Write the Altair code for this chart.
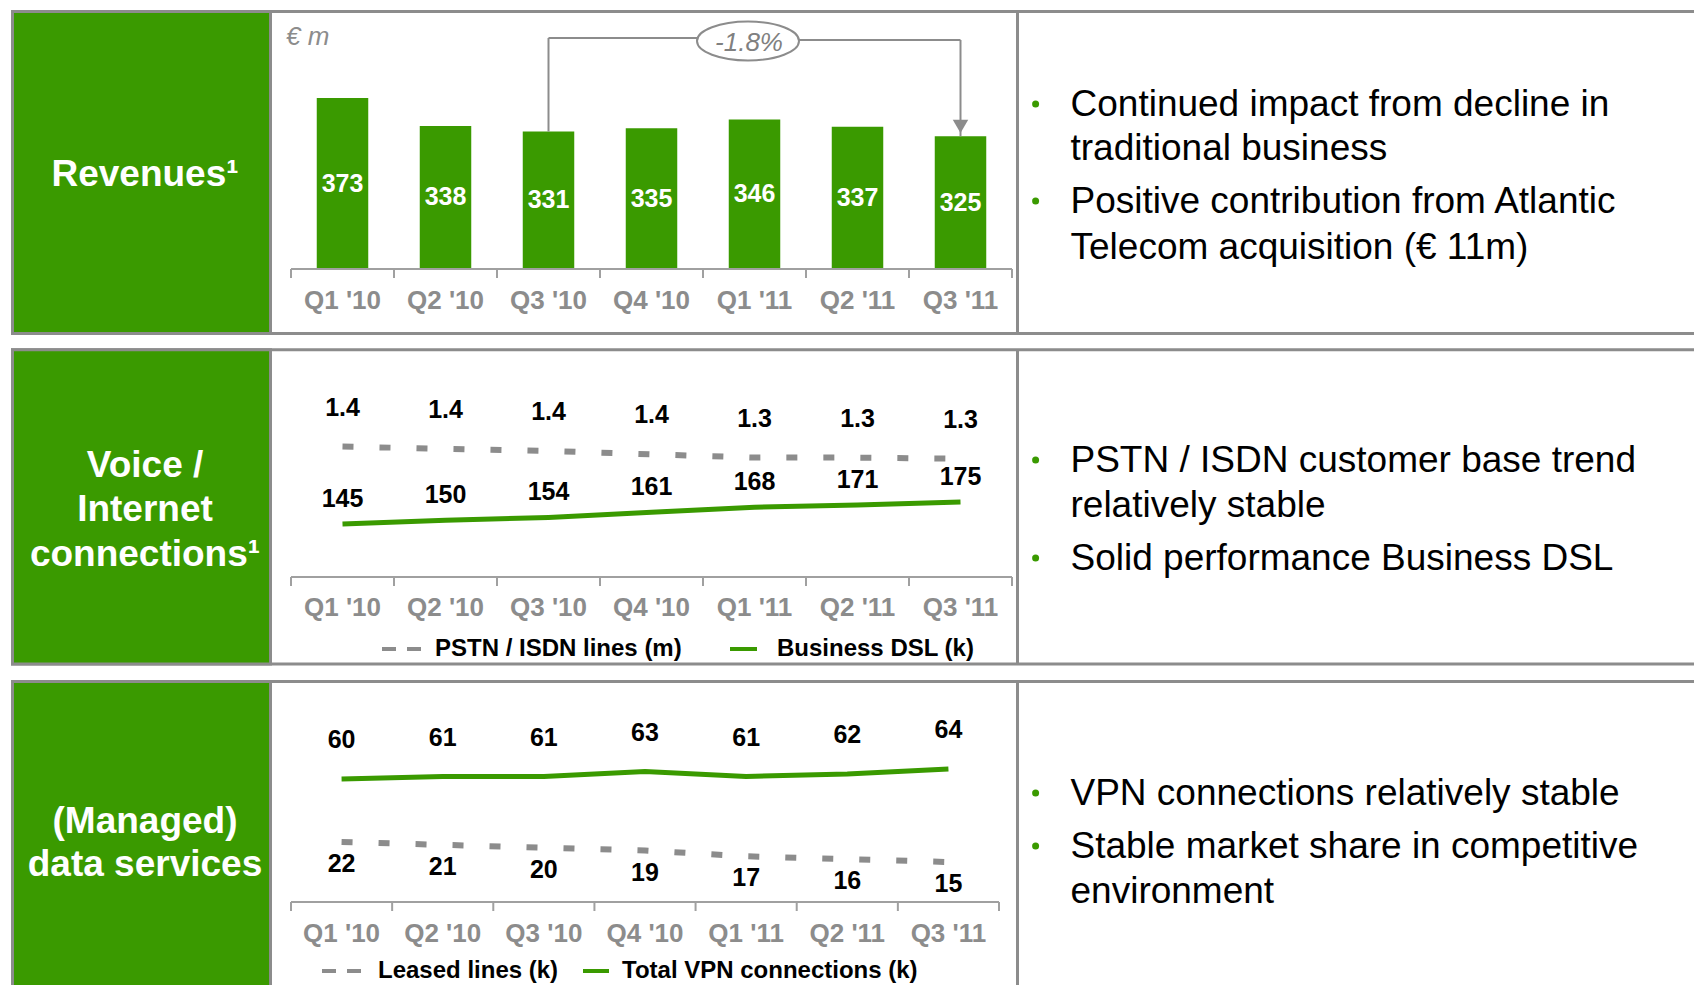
import altair as alt
import pandas as pd

# ---------------- data ----------------
quarters = ["Q1 '10", "Q2 '10", "Q3 '10", "Q4 '10", "Q1 '11", "Q2 '11", "Q3 '11"]
revenues = [373, 338, 331, 335, 346, 337, 325]
pstn_isdn_lines_m = [1.44, 1.42, 1.40, 1.37, 1.34, 1.34, 1.33]
business_dsl_k = [145, 150, 154, 161, 168, 171, 175]
total_vpn_k = [60, 61, 61, 63, 61, 62, 64]
leased_lines_k = [22, 21, 20, 19, 17, 16, 15]

revenue_change = "-1.8%"
unit_label = "€ m"

titles_1 = ["Revenues¹"]
titles_2 = ["Voice /", "Internet", "connections¹"]
titles_3 = ["(Managed)", "data services"]

bullets_1 = [["Continued impact from decline in", "traditional business"],
             ["Positive contribution from Atlantic", "Telecom acquisition (€ 11m)"]]
bullets_2 = [["PSTN / ISDN customer base trend", "relatively stable"],
             ["Solid performance Business DSL"]]
bullets_3 = [["VPN connections relatively stable"],
             ["Stable market share in competitive", "environment"]]

legend_2 = ["PSTN / ISDN lines (m)", "Business DSL (k)"]
legend_3 = ["Leased lines (k)", "Total VPN connections (k)"]

# ---------------- styling ----------------
GREEN = "#3a9a00"
GRAY = "#8c8c8c"
AXIS_GRAY = "#a0a0a0"
LABEL_GRAY = "#8c8c8c"
FONT = "Liberation Sans"
W, H = 1686, 977

one = pd.DataFrame({"k": [0]})
rev_df = pd.DataFrame({"q": quarters, "v": revenues})
pstn_df = pd.DataFrame({"q": quarters, "v": pstn_isdn_lines_m})
dsl_df = pd.DataFrame({"q": quarters, "v": business_dsl_k})
vpn_df = pd.DataFrame({"q": quarters, "v": total_vpn_k})
leased_df = pd.DataFrame({"q": quarters, "v": leased_lines_k})
edges_df = pd.DataFrame({"e": list(range(len(quarters) + 1))})
q_df = pd.DataFrame({"q": quarters})


def xband(rng):
    return alt.Scale(type="band", domain=quarters, range=rng, paddingInner=0.5, paddingOuter=0.25)


def xpoint(rng):
    return alt.Scale(type="point", domain=quarters, range=rng, padding=0.5)


def ylin(dom, rng):
    return alt.Scale(type="linear", domain=dom, range=rng, zero=False, nice=False)


def txt(s, x, y, size, color="black", weight="normal", align="left", style="normal"):
    return alt.Chart(one).mark_text(
        fontSize=size, color=color, fontWeight=weight, align=align,
        baseline="middle", font=FONT, fontStyle=style
    ).encode(x=alt.value(x), y=alt.value(y), text=alt.value(s))


def rect(x, x2, y, y2, fill, stroke=GRAY, sw=3):
    return alt.Chart(one).mark_rect(fill=fill, stroke=stroke, strokeWidth=sw).encode(
        x=alt.value(x), x2=alt.value(x2), y=alt.value(y), y2=alt.value(y2))


def hrule(x, x2, y, color=GRAY, sw=2, dash=None):
    kw = dict(color=color, strokeWidth=sw)
    if dash:
        kw["strokeDash"] = dash
    return alt.Chart(one).mark_rule(**kw).encode(
        x=alt.value(x), x2=alt.value(x2), y=alt.value(y))


def vrule(x, y, y2, color=GRAY, sw=3):
    return alt.Chart(one).mark_rule(color=color, strokeWidth=sw).encode(
        x=alt.value(x), y=alt.value(y), y2=alt.value(y2))


def axis(rng, axis_y, label_y):
    line = hrule(rng[0], rng[1], axis_y, color=AXIS_GRAY, sw=2)
    ticks = alt.Chart(edges_df).mark_rule(color=AXIS_GRAY, strokeWidth=2).encode(
        x=alt.X("e:Q", scale=alt.Scale(domain=[0, len(quarters)], range=rng, nice=False, zero=False), axis=None),
        y=alt.value(axis_y), y2=alt.value(axis_y + 9))
    labels = alt.Chart(q_df).mark_text(fontSize=26, fontWeight="bold", color=LABEL_GRAY, font=FONT,
                                       baseline="middle", align="center").encode(
        x=alt.X("q:N", scale=xpoint(rng), axis=None), y=alt.value(label_y), text="q:N")
    return [line, ticks, labels]


def series_line(df, rng, dom, yrng, color, sw, dash=None):
    kw = dict(color=color, strokeWidth=sw, strokeCap="butt")
    if dash:
        kw["strokeDash"] = dash
    return alt.Chart(df).mark_line(**kw).encode(
        x=alt.X("q:N", scale=xpoint(rng), axis=None),
        y=alt.Y("v:Q", scale=ylin(dom, yrng), axis=None))


def series_labels(df, rng, dom, yrng, dy, fmt):
    return alt.Chart(df).mark_text(fontSize=25, fontWeight="bold", color="black", font=FONT,
                                   baseline="middle", align="center", dy=dy).encode(
        x=alt.X("q:N", scale=xpoint(rng), axis=None),
        y=alt.Y("v:Q", scale=ylin(dom, yrng), axis=None),
        text=alt.Text("v:Q", format=fmt))


layers = []

# ---------------- frames ----------------
sections = [(3.4, 325.6), (341.7, 656.0), (673.5, 1000.0)]
LEFT, GREEN_R, DIVIDER, RIGHT = 4.5, 262.5, 1009.5, 1700
for top, bot in sections:
    layers.append(rect(LEFT, RIGHT, top, bot, "white"))
    layers.append(rect(LEFT, GREEN_R, top, bot, GREEN))
    layers.append(vrule(DIVIDER, top, bot))

# ---------------- titles in green boxes ----------------
TX = 137
layers.append(txt(titles_1[0], TX, 166.6, 37, "white", "bold", "center"))
for s, y in zip(titles_2, [457.5, 502, 546.5]):
    layers.append(txt(s, TX, y, 37, "white", "bold", "center"))
for s, y in zip(titles_3, [813.5, 857]):
    layers.append(txt(s, TX, y, 37, "white", "bold", "center"))

# ---------------- bullets ----------------
BX, TXX = 1027.6, 1062.5


def bullet_block(blocks, ys):
    out = []
    i = 0
    for block in blocks:
        for j, line in enumerate(block):
            if j == 0:
                out.append(alt.Chart(one).mark_point(shape="circle", filled=True, color=GREEN, size=49, opacity=1)
                           .encode(x=alt.value(BX), y=alt.value(ys[i] - 1)))
            out.append(txt(line, TXX, ys[i], 37, "black"))
            i += 1
    return out


layers += bullet_block(bullets_1, [97, 140.5, 194, 240])
layers += bullet_block(bullets_2, [453, 497.5, 551])
layers += bullet_block(bullets_3, [786, 839, 884])

# ---------------- chart 1: revenues ----------------
R1 = [283, 1004]
REV_DOM = [159, 373]
REV_RNG = [261, 90]
layers.append(alt.Chart(rev_df).mark_bar(color=GREEN).encode(
    x=alt.X("q:N", scale=xband(R1), axis=None),
    y=alt.Y("v:Q", scale=ylin(REV_DOM, REV_RNG), axis=None),
    y2=alt.datum(REV_DOM[0])))
layers.append(alt.Chart(rev_df).transform_calculate(mid=f"(datum.v + {REV_DOM[0]}) / 2").mark_text(
    fontSize=25, fontWeight="bold", color="white", font=FONT, baseline="middle", align="center").encode(
    x=alt.X("q:N", scale=xpoint(R1), axis=None),
    y=alt.Y("mid:Q", scale=ylin(REV_DOM, REV_RNG), axis=None),
    text="v:Q"))
layers += axis(R1, 261, 293)
layers.append(txt(unit_label, 278, 29, 26, "#8c8c8c", "normal", "left", "italic"))

# bracket annotation
left_q = rev_df[rev_df.q == "Q3 '10"]
right_q = rev_df[rev_df.q == "Q3 '11"]
layers.append(alt.Chart(left_q).mark_rule(color=GRAY, strokeWidth=2).encode(
    x=alt.X("q:N", scale=xpoint(R1), axis=None),
    y=alt.Y("v:Q", scale=ylin(REV_DOM, REV_RNG), axis=None), y2=alt.value(30)))
layers.append(alt.Chart(left_q).mark_rule(color=GRAY, strokeWidth=2).encode(
    x=alt.X("q:N", scale=xpoint(R1), axis=None), x2=alt.value(689), y=alt.value(30)))
layers.append(alt.Chart(right_q).mark_rule(color=GRAY, strokeWidth=2).encode(
    x=alt.X("q:N", scale=xpoint(R1), axis=None), x2=alt.value(791), y=alt.value(32)))
layers.append(alt.Chart(right_q).mark_rule(color=GRAY, strokeWidth=2).encode(
    x=alt.X("q:N", scale=xpoint(R1), axis=None),
    y=alt.Y("v:Q", scale=ylin(REV_DOM, REV_RNG), axis=None), y2=alt.value(32)))
layers.append(alt.Chart(right_q).mark_point(shape="triangle-down", filled=True, color=GRAY, size=240,
                                             opacity=1, yOffset=-10).encode(
    x=alt.X("q:N", scale=xpoint(R1), axis=None),
    y=alt.Y("v:Q", scale=ylin(REV_DOM, REV_RNG), axis=None)))
layers.append(alt.Chart(one).mark_point(
    shape="M-1,0A1,0.38,0,1,0,1,0A1,0.38,0,1,0,-1,0Z", size=102 * 102, strokeWidth=2, opacity=1).encode(
    x=alt.value(740), y=alt.value(33), fill=alt.value("white"), stroke=alt.value(GRAY)))
layers.append(txt(revenue_change, 741, 35, 26, "#808080", "normal", "center", "italic"))

# ---------------- chart 2: voice / internet ----------------
R2 = [283, 1004]
PSTN_DOM, PSTN_RNG = [1.0, 2.0], [487, 377]
DSL_DOM, DSL_RNG = [100, 200], [549, 475.7]
layers += axis(R2, 569, 600)
layers.append(series_line(pstn_df, R2, PSTN_DOM, PSTN_RNG, GRAY, 6, [11, 26]))
layers.append(series_line(dsl_df, R2, DSL_DOM, DSL_RNG, GREEN, 5))
layers.append(series_labels(pstn_df, R2, PSTN_DOM, PSTN_RNG, -39, ".1f"))
layers.append(series_labels(dsl_df, R2, DSL_DOM, DSL_RNG, -25, "d"))
layers.append(hrule(374, 413, 641, GRAY, 4, [14, 11]))
layers.append(txt(legend_2[0], 427, 641, 24, "black", "bold"))
layers.append(hrule(722, 749, 641, GREEN, 4))
layers.append(txt(legend_2[1], 769, 641, 24, "black", "bold"))

# ---------------- chart 3: data services ----------------
R3 = [283, 991]
VPN_DOM, VPN_RNG = [40, 80], [821, 721]
LEASED_DOM, LEASED_RNG = [0, 40], [896.9, 782.5]
layers += axis(R3, 894, 926)
layers.append(series_line(leased_df, R3, LEASED_DOM, LEASED_RNG, GRAY, 6, [11, 26]))
layers.append(series_line(vpn_df, R3, VPN_DOM, VPN_RNG, GREEN, 5))
layers.append(series_labels(vpn_df, R3, VPN_DOM, VPN_RNG, -39, "d"))
layers.append(series_labels(leased_df, R3, LEASED_DOM, LEASED_RNG, 22, "d"))
layers.append(hrule(314, 353, 963, GRAY, 4, [14, 11]))
layers.append(txt(legend_3[0], 370, 963, 24, "black", "bold"))
layers.append(hrule(575, 601, 963, GREEN, 4))
layers.append(txt(legend_3[1], 614, 963, 24, "black", "bold"))

chart = alt.layer(*layers).resolve_scale(x="independent", y="independent").properties(
    width=W, height=H, autosize=alt.AutoSizeParams(type="none"), padding=0
).configure_view(stroke=None)

chart.save("out.html", embed_options={"renderer": "svg", "actions": False})
